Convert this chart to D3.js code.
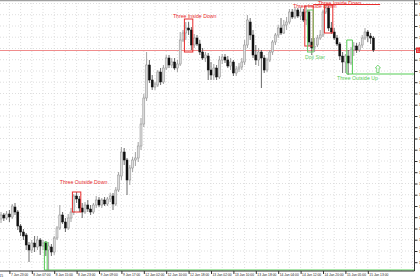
<!DOCTYPE html>
<html>
<head>
<meta charset="utf-8">
<script src="https://d3js.org/d3.v7.min.js"></script>
<style>
  html, body { margin: 0; padding: 0; background: #fff; }
  svg { display: block; font-family: "Liberation Sans", Arial, sans-serif; }
</style>
</head>
<body>
<div id="chart"></div>
<script>
// OHLC, one value per hourly bar
const opens = [1.1781,1.1785,1.1782,1.1786,1.1783,1.1793,1.1788,1.1774,1.1768,1.1765,1.1755,1.1750,1.1757,1.1753,1.1760,1.1754,1.1757,1.1750,1.1753,1.1748,
  1.1762,1.1772,1.1785,1.1778,1.1772,1.1782,1.1788,1.1804,1.1801,1.1792,1.1788,1.1795,1.1791,1.1788,1.1795,1.1800,1.1795,1.1800,1.1796,1.1801,
  1.1804,1.1796,1.1810,1.1824,1.1848,1.1840,1.1820,1.1832,1.1840,1.1842,1.1854,1.1876,1.1902,1.1935,1.1920,1.1913,1.1915,1.1928,1.1918,1.1932,
  1.1942,1.1935,1.1938,1.1932,1.1936,1.1960,1.1967,1.1972,1.1970,1.1955,1.1962,1.1956,1.1948,1.1942,1.1944,1.1930,1.1925,1.1932,1.1923,1.1940,
  1.1943,1.1940,1.1934,1.1938,1.1927,1.1931,1.1933,1.1938,1.1955,1.1978,1.1965,1.1945,1.1940,1.1948,1.1942,1.1930,1.1940,1.1948,1.1958,1.1965,
  1.1972,1.1967,1.1975,1.1978,1.1988,1.1983,1.1990,1.1984,1.1988,1.1980,1.1988,1.1958,1.1953,1.1955,1.1962,1.1965,1.1988,1.1992,1.1972,1.1968,
  1.1962,1.1956,1.1944,1.1938,1.1944,1.1937,1.1950,1.1954,1.1950,1.1955,1.1962,1.1968,1.1964,1.1962];
const highs = [1.1788,1.1787,1.1789,1.1790,1.1796,1.1797,1.1790,1.1776,1.1771,1.1767,1.1758,1.1760,1.1764,1.1764,1.1762,1.1760,1.1759,1.1758,1.1756,1.1764,
  1.1774,1.1795,1.1788,1.1782,1.1786,1.1792,1.1806,1.1808,1.1804,1.1797,1.1798,1.1800,1.1795,1.1797,1.1804,1.1803,1.1802,1.1803,1.1803,1.1807,
  1.1807,1.1813,1.1828,1.1853,1.1852,1.1842,1.1835,1.1843,1.1848,1.1858,1.1882,1.1906,1.1948,1.1940,1.1925,1.1918,1.1930,1.1932,1.1935,1.1945,
  1.1945,1.1942,1.1942,1.1940,1.1968,1.1970,1.1978,1.1978,1.1973,1.1966,1.1965,1.1960,1.1952,1.1948,1.1947,1.1938,1.1936,1.1935,1.1944,1.1946,
  1.1946,1.1944,1.1942,1.1940,1.1934,1.1937,1.1942,1.1960,1.1985,1.1982,1.1970,1.1955,1.1952,1.1950,1.1945,1.1942,1.1950,1.1960,1.1967,1.1975,
  1.1982,1.1980,1.1983,1.1991,1.1991,1.1993,1.1992,1.1993,1.1991,1.1994,1.1990,1.1962,1.1962,1.1965,1.1970,1.1990,1.1995,1.1994,1.1978,1.1972,
  1.1965,1.1958,1.1948,1.1946,1.1950,1.1953,1.1958,1.1957,1.1958,1.1965,1.1972,1.1970,1.1967,1.1964];
const lows = [1.1777,1.1779,1.1780,1.1778,1.1781,1.1785,1.1770,1.1764,1.1760,1.1750,1.1738,1.1747,1.1748,1.1750,1.1745,1.1750,1.1744,1.1730,1.1744,1.1745,
  1.1760,1.1770,1.1776,1.1768,1.1770,1.1778,1.1785,1.1797,1.1788,1.1782,1.1786,1.1788,1.1785,1.1786,1.1792,1.1793,1.1792,1.1794,1.1794,1.1798,
  1.1790,1.1794,1.1808,1.1820,1.1835,1.1805,1.1815,1.1828,1.1834,1.1838,1.1850,1.1873,1.1899,1.1917,1.1910,1.1910,1.1913,1.1915,1.1916,1.1930,
  1.1932,1.1932,1.1930,1.1928,1.1934,1.1958,1.1960,1.1965,1.1950,1.1952,1.1954,1.1945,1.1940,1.1938,1.1920,1.1920,1.1920,1.1920,1.1921,1.1936,
  1.1937,1.1932,1.1930,1.1924,1.1924,1.1928,1.1930,1.1935,1.1952,1.1960,1.1942,1.1935,1.1934,1.1912,1.1927,1.1928,1.1938,1.1945,1.1955,1.1962,
  1.1965,1.1966,1.1970,1.1976,1.1981,1.1981,1.1982,1.1980,1.1978,1.1975,1.1954,1.1945,1.1948,1.1953,1.1960,1.1963,1.1986,1.1969,1.1966,1.1960,
  1.1954,1.1940,1.1927,1.1927,1.1925,1.1935,1.1944,1.1947,1.1948,1.1952,1.1960,1.1958,1.1956,1.1948];
const closes = [1.1785,1.1782,1.1786,1.1783,1.1794,1.1788,1.1774,1.1768,1.1764,1.1755,1.1750,1.1757,1.1753,1.1760,1.1754,1.1757,1.1750,1.1754,1.1748,1.1762,
  1.1772,1.1785,1.1778,1.1772,1.1782,1.1788,1.1804,1.1801,1.1792,1.1788,1.1795,1.1791,1.1788,1.1795,1.1800,1.1795,1.1800,1.1796,1.1801,1.1804,
  1.1796,1.1810,1.1825,1.1848,1.1840,1.1820,1.1832,1.1840,1.1842,1.1854,1.1876,1.1902,1.1935,1.1920,1.1913,1.1916,1.1928,1.1918,1.1932,1.1942,
  1.1935,1.1938,1.1932,1.1936,1.1960,1.1967,1.1972,1.1970,1.1955,1.1962,1.1956,1.1948,1.1942,1.1945,1.1930,1.1925,1.1932,1.1923,1.1940,1.1943,
  1.1940,1.1934,1.1938,1.1927,1.1931,1.1933,1.1938,1.1955,1.1980,1.1965,1.1945,1.1940,1.1948,1.1942,1.1930,1.1940,1.1948,1.1958,1.1965,1.1972,
  1.1967,1.1975,1.1978,1.1988,1.1983,1.1990,1.1984,1.1988,1.1980,1.1988,1.1958,1.1952,1.19535,1.1962,1.1965,1.1988,1.1992,1.1972,1.1968,1.1962,
  1.1956,1.1944,1.1938,1.1944,1.1937,1.1950,1.1954,1.1950,1.1955,1.1962,1.1968,1.1964,1.1962,1.1950];

// axis labels
const firstDate = "7 Jan 2015";
const timeLabels = ["7 Jan 23:00","8 Jan 07:00","8 Jan 15:00","8 Jan 23:00","9 Jan 09:00","9 Jan 17:00",
  "12 Jan 02:00","12 Jan 10:00","12 Jan 18:00","13 Jan 02:00","13 Jan 10:00","13 Jan 18:00",
  "14 Jan 04:00","14 Jan 12:00","14 Jan 20:00","15 Jan 05:00","15 Jan 13:00"];
const priceTicks = [1.19965,1.19853,1.19740,1.19628,1.19515,1.19403,1.19290,1.19178,1.19065,1.18953,1.18840,1.18728,
  1.18615,1.18503,1.18390,1.18278,1.18165,1.18053,1.17940,1.17828,1.17715,1.17603,1.17490,1.17378];
const bidPrice = 1.1950;

// candlestick pattern marks: bars, price box, label spot
const patterns = [
  { name: "Three Outside Down", color: "#e82c2c", from: 26, to: 28, top: 1.1808, bottom: 1.1788, lb: 21, lp: 1.1816 },
  { name: "Three Inside Down", color: "#e82c2c", from: 66, to: 68, top: 1.1981, bottom: 1.1948, lb: 61.4, lp: 1.1982 },
  { name: "Three Inside Down", color: "#e82c2c", from: 109, to: 111, top: 1.1994, bottom: 1.1954, lb: 104.3, lp: 1.19925 },
  { name: "Three Inside Down", color: "#e82c2c", from: 116, to: 118, top: 1.1995, bottom: 1.1967, lb: 113.2, lp: 1.19955 },
  { name: "Doji Star", color: "#66cc66", from: 110, to: 111, top: 1.1990, bottom: 1.1948, lb: 108.6, lp: 1.1941 },
  { name: "Three Outside Up", color: "#55cc55", from: 124, to: 125, top: 1.1960, bottom: 1.1926, lb: 120, lp: 1.1920, extend: true },
  { name: "", color: "#55cc55", from: 16, to: 16, top: 1.1758, bottom: 1.1730, extend: true }
];
const redLevel = { from: 111.5, to: 135.4, price: 1.19955 };
const arrowUp = { bar: 134.6, price: 1.1931 };

const W = 420, H = 280, plotR = 414.5, plotB = 271;

const svg = d3.select('#chart').append('svg')
  .attr('width', W).attr('height', H)
  .attr('xmlns', 'http://www.w3.org/2000/svg');

const x = d3.scaleLinear().domain([0, 133]).range([1, 373.4]);
const y = d3.scaleLinear().domain([1.1730, 1.2000]).range([270, 0]);

// grid
const gridBars = d3.range(3, 148, 4);
svg.append('g').selectAll('line').data(gridBars).enter().append('line')
  .attr('x1', d => x(d)).attr('x2', d => x(d))
  .attr('y1', 0).attr('y2', plotB)
  .attr('stroke', '#d6d6d6').attr('stroke-width', 0.8).attr('stroke-dasharray', '1 2');
svg.append('g').selectAll('line').data(priceTicks).enter().append('line')
  .attr('x1', 0).attr('x2', plotR)
  .attr('y1', d => y(d)).attr('y2', d => y(d))
  .attr('stroke', '#d6d6d6').attr('stroke-width', 0.8).attr('stroke-dasharray', '1 2');

// top border
svg.append('line').attr('x1', 0).attr('x2', W).attr('y1', 0.5).attr('y2', 0.5)
  .attr('stroke', '#a0a0a0').attr('stroke-width', 1.5);

// bid line
svg.append('line').attr('x1', 0).attr('x2', plotR)
  .attr('y1', y(bidPrice) + 0.5).attr('y2', y(bidPrice) + 0.5)
  .attr('stroke', '#f08c8c').attr('stroke-width', 1);

// candles
const bars = opens.map((o, i) => ({ i, o, h: highs[i], l: lows[i], c: closes[i] }));
const cg = svg.append('g');
cg.selectAll('.wick').data(bars).enter().append('line')
  .attr('class', 'wick')
  .attr('x1', d => x(d.i)).attr('x2', d => x(d.i))
  .attr('y1', d => y(d.h)).attr('y2', d => y(d.l))
  .attr('stroke', d => d.c < d.o ? '#444' : '#8a8a8a').attr('stroke-width', 0.8);
cg.selectAll('.body').data(bars).enter().append('rect')
  .attr('class', 'body')
  .attr('x', d => x(d.i) - 1)
  .attr('y', d => y(Math.max(d.o, d.c)))
  .attr('width', 2)
  .attr('height', d => Math.max(0.8, Math.abs(y(d.o) - y(d.c))))
  .attr('fill', d => d.c < d.o ? '#111' : '#dcdcdc')
  .attr('stroke', d => d.c < d.o ? '#111' : '#8c8c8c')
  .attr('stroke-width', 0.5);

// pattern boxes and labels
const pg = svg.append('g');
patterns.forEach(p => {
  const x0 = x(p.from) - 1.4, x1 = x(p.to) + 1.4;
  if (p.extend) {
    pg.append('path')
      .attr('d', `M${x1},${y(p.bottom)}L${x0},${y(p.bottom)}L${x0},${y(p.top)}L${x1},${y(p.top)}L${x1},${y(p.bottom)}L${plotR},${y(p.bottom)}`)
      .attr('fill', 'none').attr('stroke', p.color).attr('stroke-width', 1);
  } else {
    pg.append('rect')
      .attr('x', x0).attr('y', y(p.top))
      .attr('width', x1 - x0).attr('height', y(p.bottom) - y(p.top))
      .attr('fill', 'none').attr('stroke', p.color).attr('stroke-width', 1);
  }
  if (p.name) {
    pg.append('text')
      .attr('x', x(p.lb)).attr('y', y(p.lp))
      .attr('fill', p.color)
      .style('font-size', '5.2px')
      .text(p.name);
  }
});
pg.append('line')
  .attr('x1', x(redLevel.from)).attr('x2', x(redLevel.to))
  .attr('y1', y(redLevel.price)).attr('y2', y(redLevel.price))
  .attr('stroke', '#e82c2c').attr('stroke-width', 1);

// up arrow outline
const ax = x(arrowUp.bar), ay = y(arrowUp.price);
pg.append('path')
  .attr('d', `M${ax},${ay - 4}L${ax + 2.6},${ay - 1}L${ax + 1.2},${ay - 1}L${ax + 1.2},${ay + 3.5}L${ax - 1.2},${ay + 3.5}L${ax - 1.2},${ay - 1}L${ax - 2.6},${ay - 1}Z`)
  .attr('fill', 'none').attr('stroke', '#55cc55').attr('stroke-width', 0.7);

// right price axis
const yAxis = svg.append('g')
  .attr('transform', `translate(${plotR},0)`)
  .call(d3.axisRight(y).tickValues(priceTicks).tickSize(3).tickPadding(1.5).tickFormat(d3.format('.5f')));
yAxis.select('.domain').attr('d', `M0,0V${plotB}`).attr('stroke', '#333');
yAxis.selectAll('text').style('font-size', '3.4px').attr('fill', '#222');
yAxis.selectAll('line').attr('stroke', '#333');

// bid tag
svg.append('rect').attr('x', plotR + 1.5).attr('y', y(bidPrice) - 2.5)
  .attr('width', 20).attr('height', 5.5).attr('fill', '#e83030');
svg.append('text').attr('x', plotR + 2.5).attr('y', y(bidPrice) + 1.8)
  .attr('fill', '#fff').style('font-size', '3.4px').text(d3.format('.5f')(bidPrice));

// bottom time axis
const tickBars = timeLabels.map((t, k) => 3 + 8 * k);
const xAxis = svg.append('g')
  .attr('transform', `translate(0,${plotB})`)
  .call(d3.axisBottom(x).tickValues(tickBars).tickSize(3).tickFormat((d, k) => timeLabels[k]));
xAxis.select('.domain').attr('d', `M0,0H${plotR}`).attr('stroke', '#333');
xAxis.selectAll('line').attr('stroke', '#333');
xAxis.selectAll('text')
  .attr('text-anchor', 'start').attr('dx', 1).attr('y', 2.2)
  .style('font-size', '3.3px').attr('fill', '#222');
svg.append('text').attr('x', x(0) + 2).attr('y', plotB + 6.4)
  .attr('text-anchor', 'end').style('font-size', '3.3px').attr('fill', '#222')
  .text(firstDate);
</script>
</body>
</html>
